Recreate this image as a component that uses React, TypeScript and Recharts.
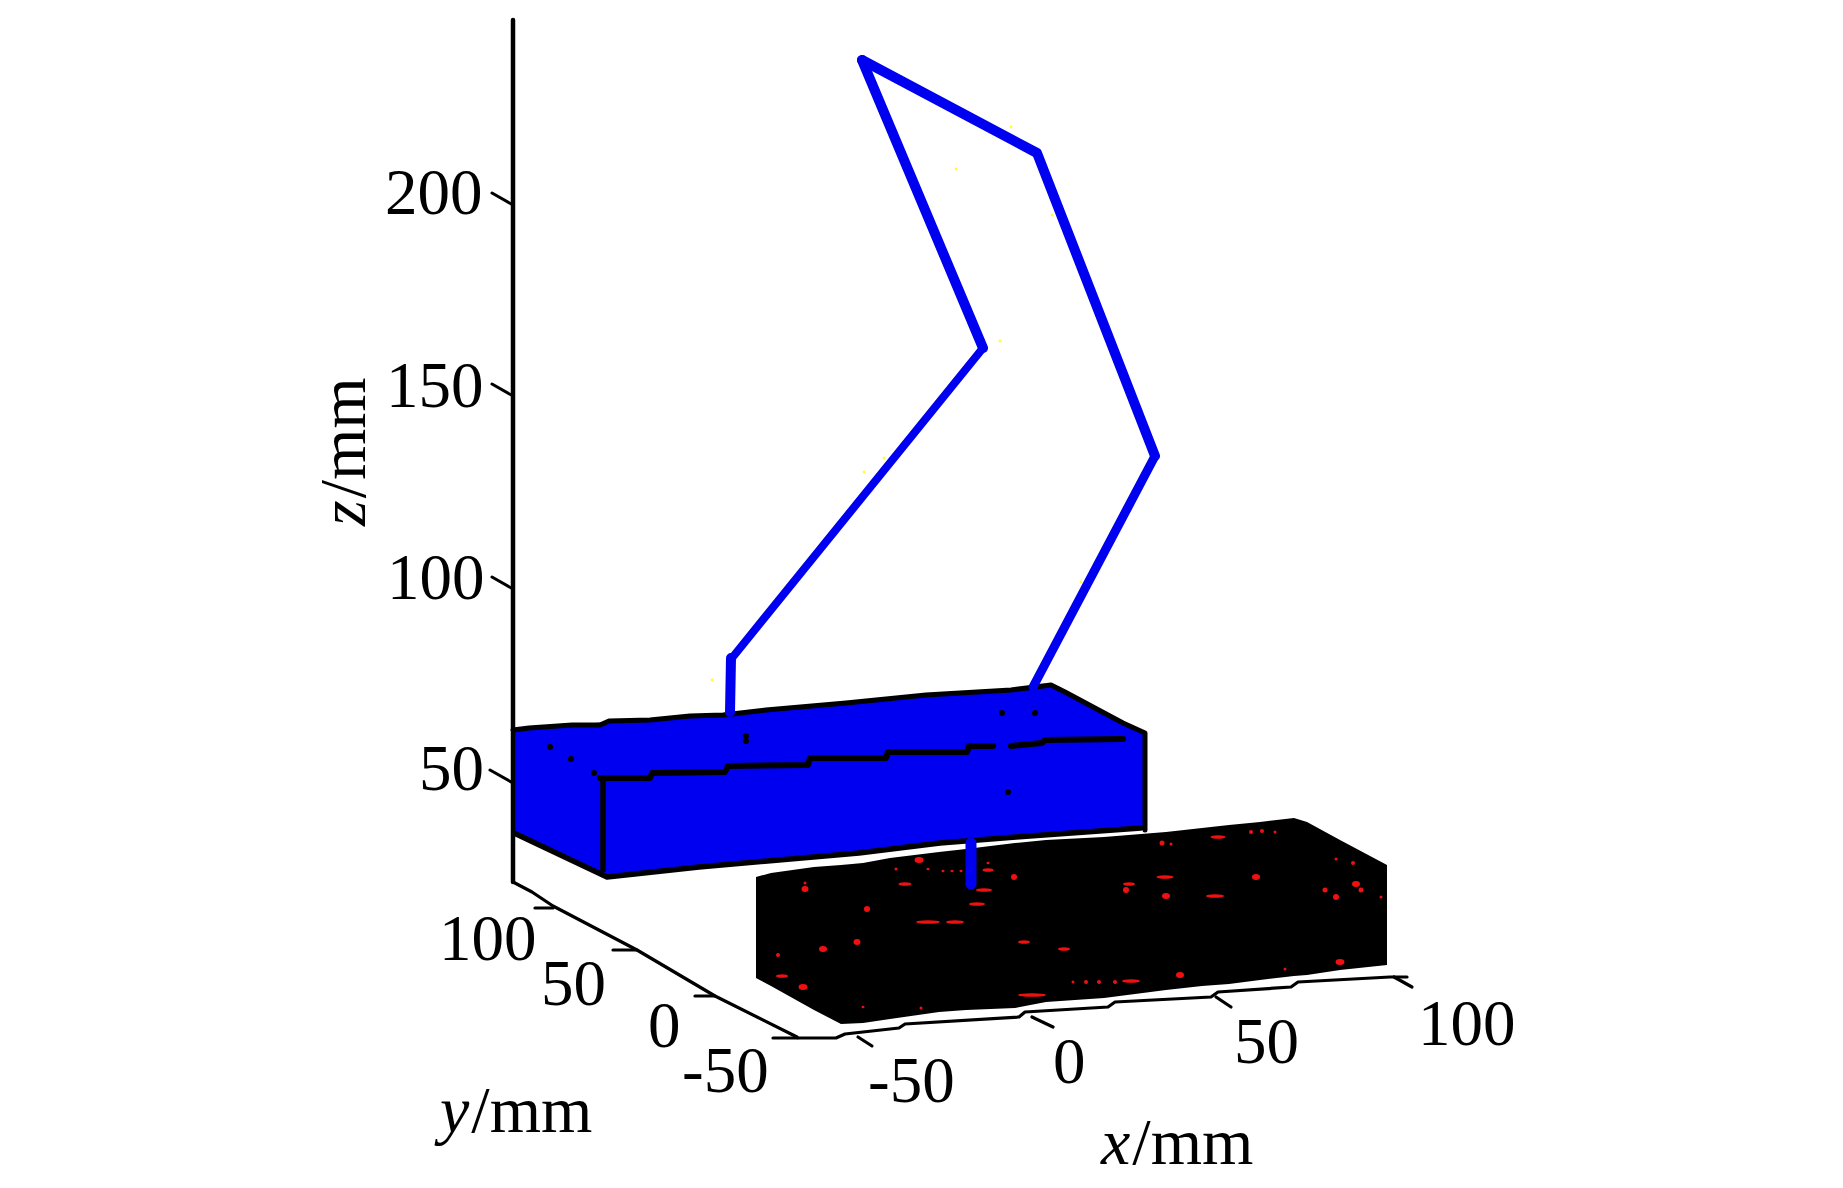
import React from "react";
import { ComposedChart, XAxis, YAxis, Line, Area, Scatter } from "recharts";

const W = 1843;
const H = 1188;
type P = [number, number];

// All values are in the projected (view-plane) coordinates of the 3-D figure.
const zAxisLine: P[] = [[513, 20], [513, 882]];
const yAxisLine: P[] = [[513, 882], [532, 892], [553, 906], [637, 950], [715, 996], [797, 1037]];
const xAxisLine: P[] = [[798, 1038], [836, 1038], [845, 1034], [899, 1028], [905, 1024], [1019, 1017], [1025, 1012], [1108, 1007], [1115, 1002], [1211, 997], [1218, 992], [1291, 987], [1298, 982], [1390, 977], [1407, 977]];
const zTicks: P[][] = [[[492, 193], [513, 205]], [[492, 384], [513, 396]], [[492, 577], [513, 589]], [[490, 770], [513, 783]]];
const yTicks: P[][] = [[[535, 908], [553, 908]], [[613, 950], [637, 950]], [[695, 996], [715, 996]], [[773, 1038], [797, 1038]]];
const xTicks: P[][] = [[[858, 1037], [872, 1046]], [[1032, 1017], [1053, 1027]], [[1216, 997], [1231, 1007]], [[1394, 977], [1412, 987]]];

// [x, upper, lower]
const blueBoxOutline: [number, number, number][] = [
  [513, 730, 832], [607, 722, 877], [699, 716, 867], [859, 701, 853], [940, 694, 843], [1016, 689, 837], [1051, 685, 834], [1065, 692, 833], [1123, 723, 829], [1145, 733, 830],
];
const blackBoxOutline: [number, number, number][] = [
  [756, 877, 978], [771, 873, 986], [814, 867, 1010], [841, 865, 1024], [863, 863, 1023], [890, 858, 1019], [939, 852, 1012], [966, 849, 1010], [1015, 843, 1008], [1046, 840, 1002], [1104, 837, 998], [1166, 832, 990], [1202, 828, 986], [1229, 825, 984], [1260, 822, 980], [1294, 818, 976], [1307, 822, 975], [1340, 840, 970], [1387, 865, 965],
];

const boxTopBack: P[] = [[513, 730], [529, 728], [572, 725], [600, 725], [609, 721], [650, 720], [690, 716], [723, 715], [766, 710], [846, 703], [926, 695], [1011, 690], [1051, 685], [1065, 692], [1123, 723], [1145, 733], [1145, 830]];
const boxFrontTopA: P[] = [[600, 778], [650, 778], [652, 773], [725, 772], [728, 766], [808, 765], [810, 758], [886, 758], [888, 752], [967, 752], [969, 746], [993, 746]];
const boxFrontTopB: P[] = [[1011, 746], [1042, 743], [1045, 740], [1123, 739]];
const boxFrontEdge: P[] = [[603, 780], [603, 870]];
const boxBottom: P[] = [[514, 833], [607, 877], [699, 867], [859, 853], [940, 843], [1016, 837], [1141, 828]];

const pathApexRight: P[] = [[862, 60], [1037, 153], [1155, 456]];
const pathRightDown: P[] = [[1155, 456], [1033, 687]];
const pathApexLeft: P[] = [[862, 60], [983, 348]];
const pathLeftDown: P[] = [[983, 348], [732, 658]];
const pathPlunge: P[] = [[731, 658], [730, 712]];
const pathStub: P[] = [[971, 843], [971, 884]];

const darkDots: P[] = [[550, 747], [571, 759], [594, 773], [746, 736], [746, 741], [1002, 713], [1035, 713], [1008, 792]];
const yellowDots: P[] = [[956, 169], [1000, 341], [884, 458], [864, 472], [712, 680], [1011, 127], [1052, 215], [1081, 582]];

// [x, y, streak length]
const redSpecks: [number, number, number][] = [
  [805, 889, 7], [805, 883, 3], [905, 884, 13], [988, 870, 11], [988, 863, 2], [984, 890, 16], [977, 904, 16], [1014, 877, 6], [1129, 884, 12], [1165, 877, 17], [1215, 896, 18], [1218, 837, 15], [1356, 884, 8], [1336, 897, 6], [1381, 897, 3], [1024, 942, 12], [1064, 949, 12], [857, 942, 7], [782, 976, 12], [803, 987, 9], [1032, 995, 28], [928, 922, 24], [955, 922, 18], [823, 949, 8], [867, 909, 6], [778, 955, 4], [1131, 981, 18], [1099, 982, 4], [1086, 982, 4], [1073, 982, 3], [1115, 982, 4], [1180, 975, 8], [1285, 969, 3], [1340, 962, 9], [1126, 890, 6], [1166, 896, 8], [1251, 832, 4], [1262, 831, 4], [1275, 832, 3], [1162, 843, 5], [1171, 844, 3], [1353, 863, 4], [1336, 859, 3], [896, 869, 3], [928, 869, 2], [943, 871, 2], [952, 871, 2], [961, 871, 2], [919, 860, 9], [1361, 890, 5], [1325, 890, 5], [1256, 877, 8], [863, 1007, 2], [921, 1008, 3],
];

const tickLabels: { x: number; y: number; text: string }[] = [
  { x: 385, y: 214, text: "200" }, { x: 386, y: 407, text: "150" }, { x: 387, y: 599, text: "100" }, { x: 419, y: 790, text: "50" },
  { x: 439, y: 960, text: "100" }, { x: 541, y: 1005, text: "50" }, { x: 648, y: 1047, text: "0" }, { x: 682, y: 1092, text: "-50" },
  { x: 868, y: 1102, text: "-50" }, { x: 1053, y: 1083, text: "0" }, { x: 1234, y: 1063, text: "50" }, { x: 1418, y: 1045, text: "100" },
];
const axisTitles: { x: number; y: number; name: string; rotate: number }[] = [
  { x: 440, y: 1132, name: "y", rotate: 0 },
  { x: 1101, y: 1164, name: "x", rotate: 0 },
  { x: 365, y: 526, name: "z", rotate: -90 },
];

const pts = (a: P[]) => a.map(([x, y]) => ({ x, y }));
const FONT = "'Liberation Serif','Times New Roman',serif";

const Seg = (key: string, a: P[], color: string, w: number) => (
  <Line key={key} data={pts(a)} dataKey="y" stroke={color} strokeWidth={w} dot={false} activeDot={false} isAnimationActive={false} legendType="none" strokeLinecap="round" strokeLinejoin="round" />
);

const TickText = (p: any) => (
  <text x={p.cx} y={p.cy} fontFamily={FONT} fontSize={65} fill="#000" textAnchor="start">{p.payload.text}</text>
);
const TitleText = (p: any) => (
  <text x={p.cx} y={p.cy} fontFamily={FONT} fontSize={66} fill="#000" textAnchor="start" transform={p.payload.rotate ? `rotate(${p.payload.rotate} ${p.cx} ${p.cy})` : undefined}>
    <tspan fontStyle="italic">{p.payload.name}</tspan>
    <tspan dx={2}>/mm</tspan>
  </text>
);
const Speck = (p: any) => (
  <ellipse cx={p.cx} cy={p.cy} rx={Math.max(1.5, p.payload.len / 2)} ry={p.payload.len > 10 ? 1.8 : Math.max(1.2, Math.min(3, p.payload.len / 2))} fill="#f01010" />
);
const DarkDot = (p: any) => <circle cx={p.cx} cy={p.cy} r={3} fill="#000" />;
const YellowDot = (p: any) => <circle cx={p.cx} cy={p.cy} r={1.4} fill="#ffff30" />;

export default function App() {
  return (
    <div style={{ position: "absolute", left: 0, top: 0, width: W, height: H, background: "#fff" }}>
      <ComposedChart width={W} height={H} margin={{ top: 0, right: 0, bottom: 0, left: 0 }}>
        <XAxis type="number" dataKey="x" domain={[0, W]} hide allowDataOverflow />
        <YAxis type="number" domain={[0, H]} reversed hide allowDataOverflow />
        <Area data={blackBoxOutline.map(([x, a, b]) => ({ x, range: [a, b] }))} dataKey="range" fill="#000" fillOpacity={1} stroke="none" dot={false} activeDot={false} isAnimationActive={false} legendType="none" />
        <Area data={blueBoxOutline.map(([x, a, b]) => ({ x, range: [a, b] }))} dataKey="range" fill="#0000f0" fillOpacity={1} stroke="none" dot={false} activeDot={false} isAnimationActive={false} legendType="none" />
        {Seg("z", zAxisLine, "#000", 4.5)}
        {Seg("y", yAxisLine, "#000", 3.2)}
        {Seg("x", xAxisLine, "#000", 3.2)}
        {zTicks.map((t, i) => Seg(`zt${i}`, t, "#000", 3))}
        {yTicks.map((t, i) => Seg(`yt${i}`, t, "#000", 3.2))}
        {xTicks.map((t, i) => Seg(`xt${i}`, t, "#000", 3.2))}
        {Seg("bt", boxTopBack, "#000", 5)}
        {Seg("bfa", boxFrontTopA, "#000", 6)}
        {Seg("bfb", boxFrontTopB, "#000", 6)}
        {Seg("bfe", boxFrontEdge, "#000", 5.5)}
        {Seg("bb", boxBottom, "#000", 5.5)}
        {Seg("p1", pathApexRight, "#0000f0", 10)}
        {Seg("p2", pathRightDown, "#0000f0", 9)}
        {Seg("p3", pathApexLeft, "#0000f0", 10)}
        {Seg("p4", pathLeftDown, "#0000f0", 8)}
        {Seg("p5", pathPlunge, "#0000f0", 10)}
        {Seg("p6", pathStub, "#0000f0", 11)}
        <Scatter data={pts(darkDots)} dataKey="y" shape={DarkDot} isAnimationActive={false} legendType="none" />
        <Scatter data={pts(yellowDots)} dataKey="y" shape={YellowDot} isAnimationActive={false} legendType="none" />
        <Scatter data={redSpecks.map(([x, y, len]) => ({ x, y, len }))} dataKey="y" shape={Speck} isAnimationActive={false} legendType="none" />
        <Scatter data={tickLabels} dataKey="y" shape={TickText} isAnimationActive={false} legendType="none" />
        <Scatter data={axisTitles} dataKey="y" shape={TitleText} isAnimationActive={false} legendType="none" />
      </ComposedChart>
    </div>
  );
}
